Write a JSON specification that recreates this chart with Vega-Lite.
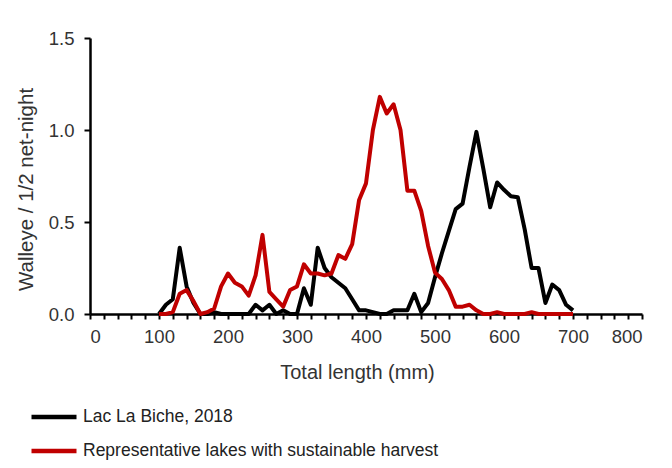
{
  "$schema": "https://vega.github.io/schema/vega-lite/v6.json",
  "width": 552,
  "height": 276,
  "autosize": {"type": "none"},
  "padding": {"left": 90, "top": 38, "right": 30, "bottom": 154},
  "background": "white",
  "config": {
    "view": {"stroke": null},
    "font": "Liberation Sans",
    "axis": {"labelFont": "Liberation Sans", "titleFont": "Liberation Sans", "labelColor": "#333333", "titleColor": "#333333", "titleFontWeight": "normal", "grid": false, "domainColor": "#000000", "tickColor": "#000000"}
  },
  "data": {"values": [
    {"len": 100, "s": "Lac La Biche, 2018", "v": 0},
    {"len": 110, "s": "Lac La Biche, 2018", "v": 0.05},
    {"len": 120, "s": "Lac La Biche, 2018", "v": 0.08},
    {"len": 130, "s": "Lac La Biche, 2018", "v": 0.36},
    {"len": 140, "s": "Lac La Biche, 2018", "v": 0.15},
    {"len": 150, "s": "Lac La Biche, 2018", "v": 0.06},
    {"len": 160, "s": "Lac La Biche, 2018", "v": 0},
    {"len": 170, "s": "Lac La Biche, 2018", "v": 0},
    {"len": 180, "s": "Lac La Biche, 2018", "v": 0.01},
    {"len": 190, "s": "Lac La Biche, 2018", "v": 0},
    {"len": 200, "s": "Lac La Biche, 2018", "v": 0},
    {"len": 210, "s": "Lac La Biche, 2018", "v": 0},
    {"len": 220, "s": "Lac La Biche, 2018", "v": 0},
    {"len": 230, "s": "Lac La Biche, 2018", "v": 0},
    {"len": 240, "s": "Lac La Biche, 2018", "v": 0.05},
    {"len": 250, "s": "Lac La Biche, 2018", "v": 0.02},
    {"len": 260, "s": "Lac La Biche, 2018", "v": 0.05},
    {"len": 270, "s": "Lac La Biche, 2018", "v": 0},
    {"len": 280, "s": "Lac La Biche, 2018", "v": 0.02},
    {"len": 290, "s": "Lac La Biche, 2018", "v": 0},
    {"len": 300, "s": "Lac La Biche, 2018", "v": 0},
    {"len": 310, "s": "Lac La Biche, 2018", "v": 0.14},
    {"len": 320, "s": "Lac La Biche, 2018", "v": 0.05},
    {"len": 330, "s": "Lac La Biche, 2018", "v": 0.36},
    {"len": 340, "s": "Lac La Biche, 2018", "v": 0.25},
    {"len": 350, "s": "Lac La Biche, 2018", "v": 0.2},
    {"len": 360, "s": "Lac La Biche, 2018", "v": 0.17},
    {"len": 370, "s": "Lac La Biche, 2018", "v": 0.14},
    {"len": 380, "s": "Lac La Biche, 2018", "v": 0.08},
    {"len": 390, "s": "Lac La Biche, 2018", "v": 0.02},
    {"len": 400, "s": "Lac La Biche, 2018", "v": 0.02},
    {"len": 410, "s": "Lac La Biche, 2018", "v": 0.01},
    {"len": 420, "s": "Lac La Biche, 2018", "v": 0},
    {"len": 430, "s": "Lac La Biche, 2018", "v": 0},
    {"len": 440, "s": "Lac La Biche, 2018", "v": 0.02},
    {"len": 450, "s": "Lac La Biche, 2018", "v": 0.02},
    {"len": 460, "s": "Lac La Biche, 2018", "v": 0.02},
    {"len": 470, "s": "Lac La Biche, 2018", "v": 0.11},
    {"len": 480, "s": "Lac La Biche, 2018", "v": 0.01},
    {"len": 490, "s": "Lac La Biche, 2018", "v": 0.06},
    {"len": 500, "s": "Lac La Biche, 2018", "v": 0.2},
    {"len": 510, "s": "Lac La Biche, 2018", "v": 0.33},
    {"len": 520, "s": "Lac La Biche, 2018", "v": 0.45},
    {"len": 530, "s": "Lac La Biche, 2018", "v": 0.57},
    {"len": 540, "s": "Lac La Biche, 2018", "v": 0.6},
    {"len": 550, "s": "Lac La Biche, 2018", "v": 0.8},
    {"len": 560, "s": "Lac La Biche, 2018", "v": 0.99},
    {"len": 570, "s": "Lac La Biche, 2018", "v": 0.79},
    {"len": 580, "s": "Lac La Biche, 2018", "v": 0.58},
    {"len": 590, "s": "Lac La Biche, 2018", "v": 0.715},
    {"len": 600, "s": "Lac La Biche, 2018", "v": 0.675},
    {"len": 610, "s": "Lac La Biche, 2018", "v": 0.64},
    {"len": 620, "s": "Lac La Biche, 2018", "v": 0.635},
    {"len": 630, "s": "Lac La Biche, 2018", "v": 0.46},
    {"len": 640, "s": "Lac La Biche, 2018", "v": 0.25},
    {"len": 650, "s": "Lac La Biche, 2018", "v": 0.25},
    {"len": 660, "s": "Lac La Biche, 2018", "v": 0.06},
    {"len": 670, "s": "Lac La Biche, 2018", "v": 0.16},
    {"len": 680, "s": "Lac La Biche, 2018", "v": 0.13},
    {"len": 690, "s": "Lac La Biche, 2018", "v": 0.05},
    {"len": 700, "s": "Lac La Biche, 2018", "v": 0.02},
    {"len": 100, "s": "Representative lakes with sustainable harvest", "v": 0},
    {"len": 110, "s": "Representative lakes with sustainable harvest", "v": 0},
    {"len": 120, "s": "Representative lakes with sustainable harvest", "v": 0.01},
    {"len": 130, "s": "Representative lakes with sustainable harvest", "v": 0.11},
    {"len": 140, "s": "Representative lakes with sustainable harvest", "v": 0.13},
    {"len": 150, "s": "Representative lakes with sustainable harvest", "v": 0.07},
    {"len": 160, "s": "Representative lakes with sustainable harvest", "v": 0},
    {"len": 170, "s": "Representative lakes with sustainable harvest", "v": 0.01},
    {"len": 180, "s": "Representative lakes with sustainable harvest", "v": 0.03},
    {"len": 190, "s": "Representative lakes with sustainable harvest", "v": 0.15},
    {"len": 200, "s": "Representative lakes with sustainable harvest", "v": 0.22},
    {"len": 210, "s": "Representative lakes with sustainable harvest", "v": 0.17},
    {"len": 220, "s": "Representative lakes with sustainable harvest", "v": 0.15},
    {"len": 230, "s": "Representative lakes with sustainable harvest", "v": 0.1},
    {"len": 240, "s": "Representative lakes with sustainable harvest", "v": 0.21},
    {"len": 250, "s": "Representative lakes with sustainable harvest", "v": 0.43},
    {"len": 260, "s": "Representative lakes with sustainable harvest", "v": 0.12},
    {"len": 270, "s": "Representative lakes with sustainable harvest", "v": 0.08},
    {"len": 280, "s": "Representative lakes with sustainable harvest", "v": 0.04},
    {"len": 290, "s": "Representative lakes with sustainable harvest", "v": 0.13},
    {"len": 300, "s": "Representative lakes with sustainable harvest", "v": 0.15},
    {"len": 310, "s": "Representative lakes with sustainable harvest", "v": 0.27},
    {"len": 320, "s": "Representative lakes with sustainable harvest", "v": 0.22},
    {"len": 330, "s": "Representative lakes with sustainable harvest", "v": 0.22},
    {"len": 340, "s": "Representative lakes with sustainable harvest", "v": 0.21},
    {"len": 350, "s": "Representative lakes with sustainable harvest", "v": 0.22},
    {"len": 360, "s": "Representative lakes with sustainable harvest", "v": 0.32},
    {"len": 370, "s": "Representative lakes with sustainable harvest", "v": 0.3},
    {"len": 380, "s": "Representative lakes with sustainable harvest", "v": 0.38},
    {"len": 390, "s": "Representative lakes with sustainable harvest", "v": 0.62},
    {"len": 400, "s": "Representative lakes with sustainable harvest", "v": 0.71},
    {"len": 410, "s": "Representative lakes with sustainable harvest", "v": 1.0},
    {"len": 420, "s": "Representative lakes with sustainable harvest", "v": 1.18},
    {"len": 430, "s": "Representative lakes with sustainable harvest", "v": 1.09},
    {"len": 440, "s": "Representative lakes with sustainable harvest", "v": 1.14},
    {"len": 450, "s": "Representative lakes with sustainable harvest", "v": 1.0},
    {"len": 460, "s": "Representative lakes with sustainable harvest", "v": 0.67},
    {"len": 470, "s": "Representative lakes with sustainable harvest", "v": 0.67},
    {"len": 480, "s": "Representative lakes with sustainable harvest", "v": 0.56},
    {"len": 490, "s": "Representative lakes with sustainable harvest", "v": 0.37},
    {"len": 500, "s": "Representative lakes with sustainable harvest", "v": 0.225},
    {"len": 510, "s": "Representative lakes with sustainable harvest", "v": 0.19},
    {"len": 520, "s": "Representative lakes with sustainable harvest", "v": 0.13},
    {"len": 530, "s": "Representative lakes with sustainable harvest", "v": 0.04},
    {"len": 540, "s": "Representative lakes with sustainable harvest", "v": 0.04},
    {"len": 550, "s": "Representative lakes with sustainable harvest", "v": 0.05},
    {"len": 560, "s": "Representative lakes with sustainable harvest", "v": 0.02},
    {"len": 570, "s": "Representative lakes with sustainable harvest", "v": 0},
    {"len": 580, "s": "Representative lakes with sustainable harvest", "v": 0},
    {"len": 590, "s": "Representative lakes with sustainable harvest", "v": 0.01},
    {"len": 600, "s": "Representative lakes with sustainable harvest", "v": 0},
    {"len": 610, "s": "Representative lakes with sustainable harvest", "v": 0},
    {"len": 620, "s": "Representative lakes with sustainable harvest", "v": 0},
    {"len": 630, "s": "Representative lakes with sustainable harvest", "v": 0},
    {"len": 640, "s": "Representative lakes with sustainable harvest", "v": 0.01},
    {"len": 650, "s": "Representative lakes with sustainable harvest", "v": 0},
    {"len": 660, "s": "Representative lakes with sustainable harvest", "v": 0},
    {"len": 670, "s": "Representative lakes with sustainable harvest", "v": 0},
    {"len": 680, "s": "Representative lakes with sustainable harvest", "v": 0},
    {"len": 690, "s": "Representative lakes with sustainable harvest", "v": 0},
    {"len": 700, "s": "Representative lakes with sustainable harvest", "v": 0}
  ]},
  "mark": {"type": "line", "strokeWidth": 4, "strokeJoin": "round", "strokeCap": "butt"},
  "encoding": {
    "x": {
      "field": "len", "type": "quantitative",
      "scale": {"domain": [0, 800], "nice": false, "zero": false},
      "axis": {
        "title": "Total length (mm)",
        "values": [0,20,40,60,80,100,120,140,160,180,200,220,240,260,280,300,320,340,360,380,400,420,440,460,480,500,520,540,560,580,600,620,640,660,680,700,720,740,760,780,800],
        "labelExpr": "datum.value % 100 === 0 ? datum.label : ''",
        "labelOverlap": false,
        "labelFontSize": 18.5,
        "labelPadding": 8,
        "tickSize": 5,
        "tickWidth": 2,
        "domainWidth": 2.5,
        "titleFontSize": 20,
        "titleX": 267,
        "titleY": 58,
        "titleBaseline": "middle",
        "titleAlign": "center"
      }
    },
    "y": {
      "field": "v", "type": "quantitative",
      "scale": {"domain": [0, 1.5], "nice": false},
      "axis": {
        "title": "Walleye / 1/2 net-night",
        "values": [0, 0.5, 1, 1.5],
        "format": ".1f",
        "labelFontSize": 18.5,
        "labelPadding": 10,
        "tickSize": 6,
        "tickWidth": 2,
        "domainWidth": 2.5,
        "titleFontSize": 20.5,
        "titleX": -64,
        "titleY": 151,
        "titleBaseline": "middle",
        "titleAlign": "center",
        "titleAngle": -90
      }
    },
    "color": {
      "field": "s", "type": "nominal",
      "scale": {"domain": ["Lac La Biche, 2018", "Representative lakes with sustainable harvest"], "range": ["#000000", "#C00000"]},
      "legend": {
        "title": null,
        "orient": "none",
        "legendX": -61,
        "legendY": 354,
        "symbolType": "stroke",
        "symbolSize": 2025,
        "symbolStrokeWidth": 4.5,
        "labelFont": "Liberation Sans",
        "labelFontSize": 17.5,
        "labelColor": "#222222",
        "labelOffset": 4,
        "rowPadding": -13,
        "labelLimit": 600
      }
    }
  }
}
